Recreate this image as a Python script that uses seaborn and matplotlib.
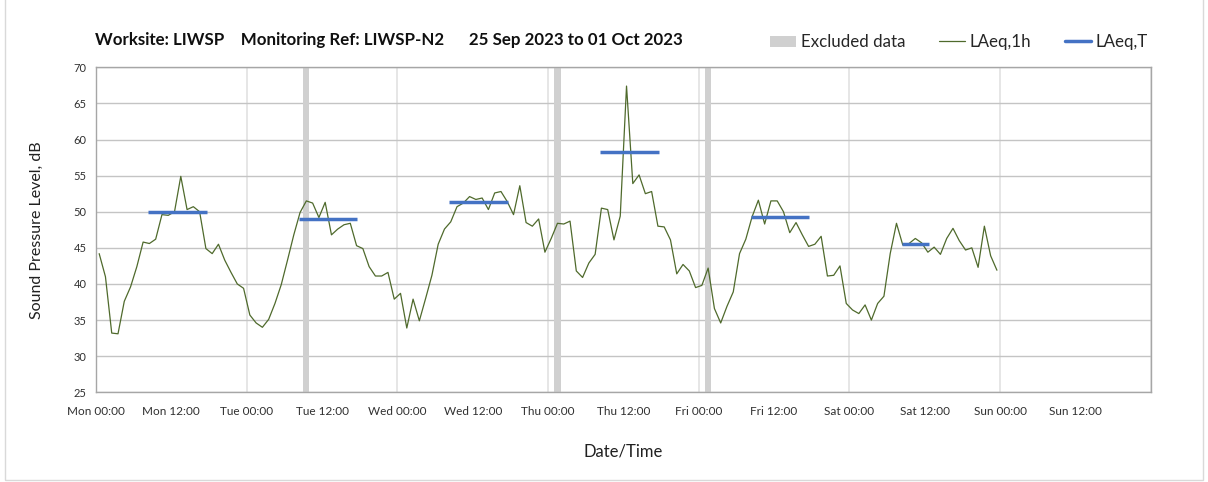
import numpy as np
import pandas as pd
import matplotlib
matplotlib.use("Agg")
import matplotlib.pyplot as plt
from matplotlib.patches import Patch, Rectangle
from matplotlib.lines import Line2D
import seaborn as sns

# hourly LAeq,1h values, Mon 00:00 -> Sun 00:00 (plotted mid-hour)
mon = [44.2, 41.0, 33.2, 33.1, 37.6, 39.6, 42.4, 45.8, 45.6, 46.2, 49.6, 49.5,
       50.0, 54.9, 50.3, 50.7, 50.0, 44.9, 44.2, 45.5, 43.3, 41.6, 40.0, 39.4]
tue = [35.7, 34.6, 34.0, 35.1, 37.3, 39.9, 43.3, 46.8, 49.9, 51.5, 51.2, 49.2,
       51.3, 46.8, 47.6, 48.2, 48.4, 45.3, 44.9, 42.4, 41.1, 41.1, 41.6, 37.9]
wed = [38.7, 33.9, 37.9, 34.9, 38.0, 41.2, 45.5, 47.6, 48.6, 50.7, 51.2, 52.1,
       51.7, 51.9, 50.3, 52.6, 52.8, 51.4, 49.6, 53.6, 48.5, 48.0, 49.0, 44.4]
thu = [46.3, 48.4, 48.3, 48.7, 41.8, 40.9, 42.9, 44.1, 50.5, 50.3, 46.1, 49.4,
       67.4, 53.9, 55.1, 52.5, 52.8, 48.0, 47.9, 46.1, 41.4, 42.7, 41.8, 39.5]
fri = [39.8, 42.2, 36.6, 34.6, 36.9, 38.9, 44.2, 46.2, 49.3, 51.6, 48.3, 51.5,
       51.5, 50.0, 47.1, 48.5, 46.8, 45.2, 45.5, 46.6, 41.1, 41.2, 42.5, 37.3]
sat = [36.4, 35.9, 37.1, 35.0, 37.3, 38.3, 44.2, 48.4, 45.4, 45.6, 46.3, 45.7,
       44.4, 45.1, 44.1, 46.3, 47.7, 46.0, 44.7, 45.0, 42.3, 48.0, 43.9, 41.9]

# LAeq,T per daytime period (hours from Mon 00:00)
laeq_t = [50.0, 49.0, 51.4, 58.3, 49.3, 45.5]
t_start = [8.3, 32.3, 56.3, 80.3, 104.3, 128.3]
t_end = [17.6, 41.6, 65.6, 89.6, 113.6, 132.7]

# excluded data periods (hours)
excl_start = [33.0, 73.0, 97.0]
excl_end = [34.0, 74.0, 98.0]

days = ['Mon', 'Tue', 'Wed', 'Thu', 'Fri', 'Sat', 'Sun']

levels = mon + tue + wed + thu + fri + sat
df = pd.DataFrame({'hour': np.arange(len(levels)) + 0.5, 'LAeq': levels})

sns.set_style('white')
plt.rcParams['font.family'] = ['Lato', 'DejaVu Sans']

fig = plt.figure(figsize=(12.08, 4.82), dpi=100)
ax = fig.add_axes([0.0795, 0.1861, 0.8731, 0.6743])

# excluded bands
for s, e in zip(excl_start, excl_end):
    ax.axvspan(s, e, color='#d0d0d0', lw=0, zorder=1)

sns.lineplot(data=df, x='hour', y='LAeq', color='#4f6a2c', lw=0.9, ax=ax, zorder=3)

ax.hlines(laeq_t, t_start, t_end, color='#4472c4', lw=2.5, zorder=4)

ax.set_xlim(0, 168)
ax.set_ylim(25, 70)
ax.set_yticks(np.arange(25, 71, 5))
ax.set_xticks(np.arange(0, 169, 24))
ax.set_xticklabels([d + ' 00:00' for d in days] + [''])
ax.set_xticks(np.arange(12, 168, 24), minor=True)
ax.set_xticklabels([d + ' 12:00' for d in days], minor=True)

ax.grid(axis='y', color='#c4c4c4', lw=1, zorder=0)
ax.grid(axis='x', which='major', color='#e2e2e2', lw=1.2, zorder=0)
ax.set_axisbelow(True)

for sp in ax.spines.values():
    sp.set_color('#a6a6a6')
    sp.set_linewidth(1)

ax.tick_params(axis='both', which='both', direction='out', length=4, color='#a6a6a6',
               labelsize=8.5, labelcolor='#303030', pad=3)
ax.tick_params(axis='x', which='both', pad=6)
ax.tick_params(axis='y', labelsize=8)

ax.set_xlabel('Date/Time', fontsize=12, color='#202020', labelpad=19)
ax.set_ylabel('Sound Pressure Level, dB', fontsize=11.5, color='#202020', labelpad=21)

fig.text(0.0786, 0.917, 'Worksite: LIWSP    Monitoring Ref: LIWSP-N2      25 Sep 2023 to 01 Oct 2023',
         fontsize=12.2, fontweight='bold', color='#101010', va='center')

handles = [Patch(facecolor='#d0d0d0', edgecolor='none'),
           Line2D([], [], color='#4f6a2c', lw=0.9),
           Line2D([], [], color='#4472c4', lw=2.5)]
fig.legend(handles, ['Excluded data', 'LAeq,1h', 'LAeq,T'], ncol=3, frameon=False,
           loc='center right', bbox_to_anchor=(0.963, 0.912), fontsize=12.2,
           handlelength=1.5, handletextpad=0.3, columnspacing=2.0)

fig.add_artist(Rectangle((0.004, 0.004), 0.992, 1.2, transform=fig.transFigure,
                         fill=False, edgecolor='#d9d9d9', lw=1))

fig.savefig('out.png', dpi=100)
